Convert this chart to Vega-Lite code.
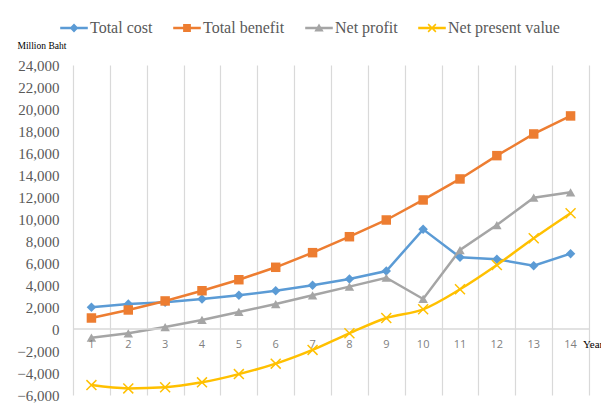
{
  "$schema": "https://vega.github.io/schema/vega-lite/v6.json",
  "width": 516,
  "height": 330,
  "autosize": {"type": "none"},
  "padding": {"left": 73, "top": 65, "right": 12, "bottom": 12},
  "background": "white",
  "config": {"view": {"stroke": null}},
  "data": {
    "values": [
      {"year": 1, "series": "Total cost", "value": 1970},
      {"year": 2, "series": "Total cost", "value": 2270},
      {"year": 3, "series": "Total cost", "value": 2430},
      {"year": 4, "series": "Total cost", "value": 2730},
      {"year": 5, "series": "Total cost", "value": 3060},
      {"year": 6, "series": "Total cost", "value": 3480},
      {"year": 7, "series": "Total cost", "value": 3970},
      {"year": 8, "series": "Total cost", "value": 4550},
      {"year": 9, "series": "Total cost", "value": 5270},
      {"year": 10, "series": "Total cost", "value": 9060},
      {"year": 11, "series": "Total cost", "value": 6520},
      {"year": 12, "series": "Total cost", "value": 6340},
      {"year": 13, "series": "Total cost", "value": 5760},
      {"year": 14, "series": "Total cost", "value": 6850},
      {"year": 1, "series": "Total benefit", "value": 1000},
      {"year": 2, "series": "Total benefit", "value": 1730},
      {"year": 3, "series": "Total benefit", "value": 2550},
      {"year": 4, "series": "Total benefit", "value": 3480},
      {"year": 5, "series": "Total benefit", "value": 4480},
      {"year": 6, "series": "Total benefit", "value": 5610},
      {"year": 7, "series": "Total benefit", "value": 6940},
      {"year": 8, "series": "Total benefit", "value": 8390},
      {"year": 9, "series": "Total benefit", "value": 9910},
      {"year": 10, "series": "Total benefit", "value": 11730},
      {"year": 11, "series": "Total benefit", "value": 13640},
      {"year": 12, "series": "Total benefit", "value": 15760},
      {"year": 13, "series": "Total benefit", "value": 17730},
      {"year": 14, "series": "Total benefit", "value": 19370},
      {"year": 1, "series": "Net profit", "value": -790},
      {"year": 2, "series": "Net profit", "value": -390},
      {"year": 3, "series": "Net profit", "value": 180},
      {"year": 4, "series": "Net profit", "value": 820},
      {"year": 5, "series": "Net profit", "value": 1550},
      {"year": 6, "series": "Net profit", "value": 2270},
      {"year": 7, "series": "Net profit", "value": 3060},
      {"year": 8, "series": "Net profit", "value": 3850},
      {"year": 9, "series": "Net profit", "value": 4660},
      {"year": 10, "series": "Net profit", "value": 2730},
      {"year": 11, "series": "Net profit", "value": 7180},
      {"year": 12, "series": "Net profit", "value": 9450},
      {"year": 13, "series": "Net profit", "value": 11940},
      {"year": 14, "series": "Net profit", "value": 12430},
      {"year": 1, "series": "Net present value", "value": -5100},
      {"year": 2, "series": "Net present value", "value": -5400},
      {"year": 3, "series": "Net present value", "value": -5300},
      {"year": 4, "series": "Net present value", "value": -4850},
      {"year": 5, "series": "Net present value", "value": -4100},
      {"year": 6, "series": "Net present value", "value": -3150},
      {"year": 7, "series": "Net present value", "value": -1900},
      {"year": 8, "series": "Net present value", "value": -390},
      {"year": 9, "series": "Net present value", "value": 1000},
      {"year": 10, "series": "Net present value", "value": 1790},
      {"year": 11, "series": "Net present value", "value": 3610},
      {"year": 12, "series": "Net present value", "value": 5820},
      {"year": 13, "series": "Net present value", "value": 8250},
      {"year": 14, "series": "Net present value", "value": 10530}
    ]
  },
  "layer": [
    {
      "transform": [{"filter": "datum.series !== 'Net present value'"}],
      "mark": {"type": "line", "strokeWidth": 2.5},
      "encoding": {
        "x": {"field": "year", "type": "quantitative", "scale": {"domain": [0.5, 14.5], "nice": false, "zero": false},
          "axis": {"values": [0.5, 1.5, 2.5, 3.5, 4.5, 5.5, 6.5, 7.5, 8.5, 9.5, 10.5, 11.5, 12.5, 13.5, 14.5], "tickCount": 100, "grid": true, "gridColor": "#d9d9d9", "gridWidth": 1.2, "labels": false, "ticks": false, "domain": false, "title": null}},
        "y": {"field": "value", "type": "quantitative", "scale": {"domain": [-6000, 24000], "nice": false, "zero": false},
          "axis": {"values": [-6000, -4000, -2000, 0, 2000, 4000, 6000, 8000, 10000, 12000, 14000, 16000, 18000, 20000, 22000, 24000], "tickCount": 100, "format": ",.0f", "labelOverlap": false, "grid": false, "domain": false, "ticks": false, "labelPadding": 14, "labelFont": "Liberation Serif", "labelFontSize": 15, "labelColor": "#595959",
            "title": "Million Baht", "titleAngle": 0, "titleX": -56, "titleY": -20, "titleAlign": "left", "titleBaseline": "middle", "titleFont": "Liberation Serif", "titleFontSize": 9.5, "titleFontWeight": "normal", "titleColor": "#000000"}},
        "color": {"field": "series", "type": "nominal", "legend": null,
          "scale": {"domain": ["Total cost", "Total benefit", "Net profit", "Net present value"], "range": ["#5B9BD5", "#ED7D31", "#A5A5A5", "#FFC000"]}}
      }
    },
    {
      "data": {"values": [{"k": 0}]},
      "mark": {"type": "rule", "color": "#d9d9d9", "strokeWidth": 1.3},
      "encoding": {"y": {"datum": 0, "type": "quantitative"}}
    },
    {
      "transform": [{"filter": "datum.series === 'Net present value'"}],
      "mark": {"type": "line", "strokeWidth": 2.5, "interpolate": "monotone"},
      "encoding": {
        "x": {"field": "year", "type": "quantitative"},
        "y": {"field": "value", "type": "quantitative"},
        "color": {"field": "series", "type": "nominal", "legend": null}
      }
    },
    {
      "mark": {"type": "point", "filled": true, "opacity": 1, "size": 90},
      "encoding": {
        "x": {"field": "year", "type": "quantitative"},
        "y": {"field": "value", "type": "quantitative"},
        "color": {"field": "series", "type": "nominal", "legend": null},
        "shape": {"field": "series", "type": "nominal", "legend": null,
          "scale": {"domain": ["Total cost", "Total benefit", "Net profit", "Net present value"],
            "range": ["diamond", "square", "triangle-up", "M-0.94,-1.16L1.16,0.94L0.94,1.16L-1.16,-0.94ZM-1.16,0.94L0.94,-1.16L1.16,-0.94L-0.94,1.16Z"]}}
      }
    },
    {
      "transform": [{"filter": "datum.series === 'Total cost'"}],
      "mark": {"type": "text", "dy": 16, "font": "Open Sans", "fontSize": 11, "color": "#7f7f7f", "baseline": "middle", "align": "center"},
      "encoding": {
        "x": {"field": "year", "type": "quantitative"},
        "y": {"datum": 0, "type": "quantitative"},
        "text": {"field": "year", "type": "quantitative"}
      }
    },
    {
      "data": {"values": [{"k": 0}]},
      "mark": {"type": "text", "dx": -6, "dy": 16, "font": "Liberation Serif", "fontSize": 11, "color": "#000000", "baseline": "middle", "align": "left"},
      "encoding": {
        "x": {"datum": 14.5, "type": "quantitative"},
        "y": {"datum": 0, "type": "quantitative"},
        "text": {"value": "Year"}
      }
    },
    {
      "transform": [{"filter": "datum.year > 100"}],
      "mark": {"type": "point", "filled": true, "opacity": 1},
      "encoding": {
        "x": {"field": "year", "type": "quantitative"},
        "y": {"field": "value", "type": "quantitative"},
        "fill": {"field": "series", "type": "nominal",
          "scale": {"domain": ["Total cost", "Total benefit", "Net profit", "Net present value"], "range": ["#5B9BD5", "#ED7D31", "#A5A5A5", "#FFC000"]},
          "legend": {"orient": "none", "legendX": -7, "legendY": -45, "direction": "horizontal", "title": null, "labelFont": "Liberation Serif", "labelFontSize": 16, "labelColor": "#595959", "symbolSize": 200, "labelOffset": 8, "columnPadding": 20, "padding": 0, "symbolStrokeWidth": 0}},
        "shape": {"field": "series", "type": "nominal",
          "scale": {"domain": ["Total cost", "Total benefit", "Net profit", "Net present value"],
            "range": [
              "M-1.95,-0.18H1.95V0.18H-1.95ZM0,-0.62L0.62,0L0,0.62L-0.62,0Z",
              "M-1.95,-0.18H1.95V0.18H-1.95ZM-0.55,-0.55H0.55V0.55H-0.55Z",
              "M-1.95,-0.18H1.95V0.18H-1.95ZM0,-0.62L0.66,0.5L-0.66,0.5Z",
              "M-1.95,-0.18H1.95V0.18H-1.95ZM-0.475,-0.625L0.625,0.475L0.475,0.625L-0.625,-0.475ZM-0.625,0.475L0.475,-0.625L0.625,-0.475L-0.475,0.625Z"
            ]},
          "legend": {"orient": "none", "legendX": -7, "legendY": -45, "direction": "horizontal", "title": null, "labelFont": "Liberation Serif", "labelFontSize": 16, "labelColor": "#595959", "symbolSize": 200, "labelOffset": 8, "columnPadding": 20, "padding": 0, "symbolStrokeWidth": 0}}
      }
    }
  ],
  "resolve": {"scale": {"shape": "independent", "fill": "independent"}}
}
